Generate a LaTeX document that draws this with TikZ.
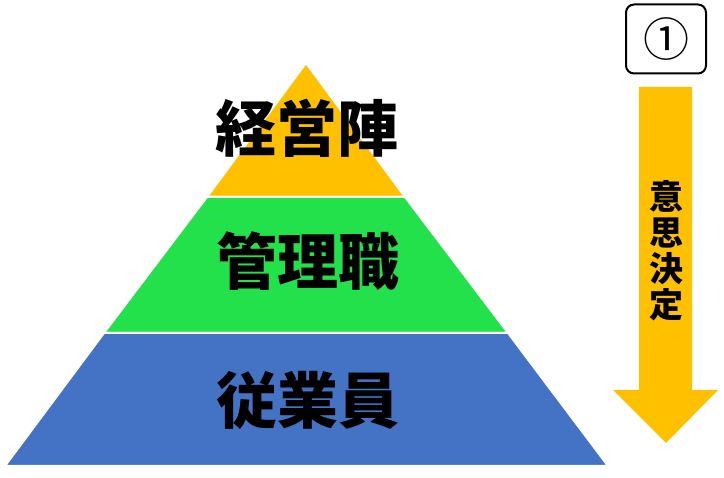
\documentclass[tikz,border=0pt]{standalone}
\usepackage{fontspec}
\setmainfont{Noto Sans CJK JP}
\usetikzlibrary{positioning}
\definecolor{pyrgold}{HTML}{FFC000}
\definecolor{pyrgreen}{HTML}{22E14B}
\definecolor{pyrblue}{HTML}{4472C4}

\begin{document}
\begin{tikzpicture}[
  x=1pt, y=-1pt,
  layer/.style={draw=white, line width=2pt},
  tier/.style={inner sep=0pt, font=\fontsize{61}{63}\selectfont\bfseries},
  stepbox/.style={draw, rounded corners=8pt, line width=2pt,
    minimum width=80pt, minimum height=69pt, font=\fontsize{46}{48}\selectfont},
  flowtext/.style={align=center, inner sep=0pt, font=\fontsize{34}{36}\selectfont\bfseries},
]
\useasboundingbox (0,0) rectangle (724,478);

% Pyramid: three layers, top to bottom
\fill[pyrgold, layer]  (306,63)  -- (207,197) -- (405,197) -- cycle;
\fill[pyrgreen, layer] (207,197) -- (104,333) -- (508,333) -- (405,197) -- cycle;
\fill[pyrblue, layer]  (104,333) -- (5,466)   -- (608,466) -- (508,333) -- cycle;

\node[tier] (exec)  at (307,128) {経営陣};
\node[tier] (mgr)   at (308,261) {管理職};
\node[tier] (staff) at (308,400) {従業員};

% Step marker and downward arrow on the right
\node[stepbox] (step) at (666,39) {①};
\fill[pyrgold] (639,87) -- (692,87) -- (692,390) -- (718,390)
  -- (666,443) -- (613,390) -- (639,390) -- cycle;
\node[flowtext] (decide) at (666,251) {意\\思\\決\\定};
\end{tikzpicture}
\end{document}
